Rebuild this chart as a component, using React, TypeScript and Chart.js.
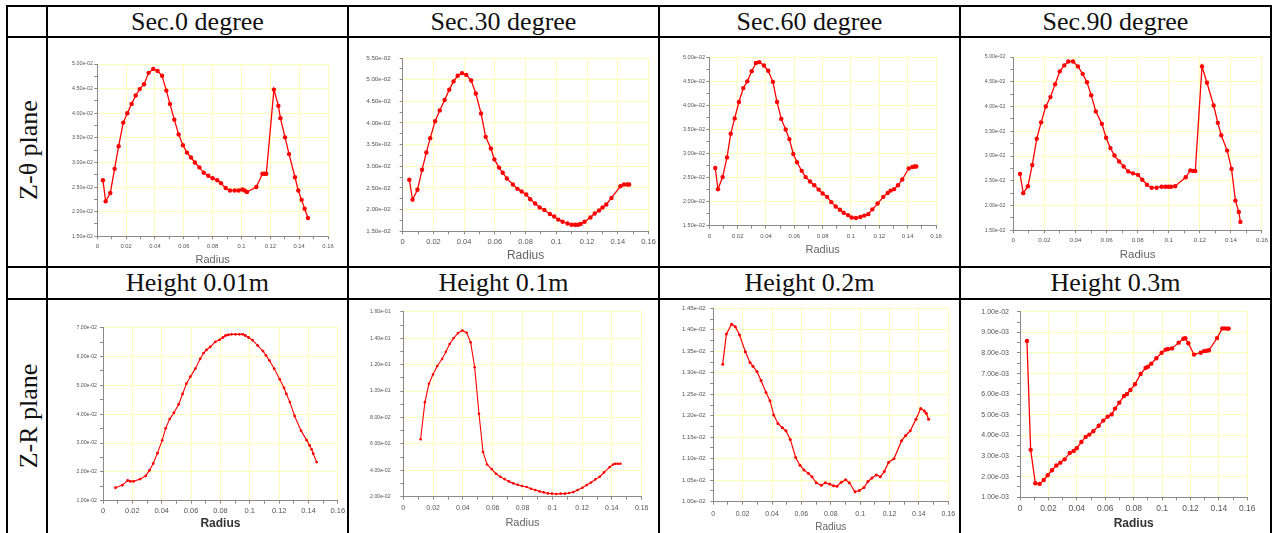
import { useEffect, useRef } from "react";
import { Chart, registerables } from "chart.js";

Chart.register(...registerables);

const NARROW = "'Liberation Sans Narrow', 'Arial Narrow', 'Liberation Sans', Arial, sans-serif";
const SERIF = "'Liberation Serif', 'Times New Roman', 'DejaVu Serif', serif";

// ---- table text ----
const columnHeaders = ["Sec.0 degree", "Sec.30 degree", "Sec.60 degree", "Sec.90 degree"];
const heightHeaders = ["Height 0.01m", "Height 0.1m", "Height 0.2m", "Height 0.3m"];
const rowLabels = ["Z-\u03b8 plane", "Z-R plane"];
const axisTitle = "Radius";

// ---- Z-θ plane, Sec.0 degree ----
const sec0Radius = [0.0039, 0.0058, 0.009, 0.012, 0.0148, 0.018, 0.0208, 0.0238, 0.0266, 0.0294, 0.0324, 0.0356, 0.0388, 0.0418, 0.0449, 0.0479, 0.0504, 0.0534, 0.0564, 0.0594, 0.0622, 0.065, 0.0677, 0.0708, 0.0738, 0.077, 0.08, 0.0832, 0.0858, 0.089, 0.092, 0.0953, 0.098, 0.1006, 0.1022, 0.1038, 0.1103, 0.1145, 0.116, 0.1172, 0.1225, 0.1256, 0.127, 0.1302, 0.133, 0.1371, 0.1394, 0.1417, 0.1438, 0.1461];
const sec0Value = [2.64e-2, 2.21e-2, 2.38e-2, 2.87e-2, 3.33e-2, 3.81e-2, 4.0e-2, 4.19e-2, 4.36e-2, 4.49e-2, 4.59e-2, 4.82e-2, 4.9e-2, 4.86e-2, 4.76e-2, 4.46e-2, 4.19e-2, 3.87e-2, 3.57e-2, 3.35e-2, 3.2e-2, 3.1e-2, 3.0e-2, 2.9e-2, 2.79e-2, 2.73e-2, 2.68e-2, 2.64e-2, 2.58e-2, 2.48e-2, 2.43e-2, 2.43e-2, 2.43e-2, 2.45e-2, 2.43e-2, 2.4e-2, 2.5e-2, 2.77e-2, 2.77e-2, 2.77e-2, 4.48e-2, 4.15e-2, 3.9e-2, 3.51e-2, 3.17e-2, 2.7e-2, 2.43e-2, 2.24e-2, 2.06e-2, 1.87e-2];

// ---- Z-θ plane, Sec.30 degree ----
const sec30Radius = [0.0043, 0.0064, 0.0096, 0.0126, 0.0154, 0.0179, 0.0211, 0.0241, 0.0273, 0.0303, 0.0331, 0.0358, 0.0386, 0.0414, 0.0446, 0.0476, 0.051, 0.054, 0.0574, 0.0597, 0.0627, 0.0651, 0.0678, 0.0717, 0.0747, 0.0774, 0.0804, 0.083, 0.0862, 0.0892, 0.0922, 0.0958, 0.0986, 0.1013, 0.1041, 0.1073, 0.1099, 0.1122, 0.1141, 0.1158, 0.1184, 0.1222, 0.125, 0.1278, 0.1301, 0.1325, 0.1359, 0.1417, 0.144, 0.1461, 0.1474];
const sec30Value = [2.69e-2, 2.23e-2, 2.46e-2, 2.92e-2, 3.32e-2, 3.65e-2, 4.04e-2, 4.29e-2, 4.53e-2, 4.77e-2, 4.96e-2, 5.09e-2, 5.15e-2, 5.11e-2, 4.98e-2, 4.68e-2, 4.22e-2, 3.68e-2, 3.41e-2, 3.16e-2, 2.97e-2, 2.85e-2, 2.72e-2, 2.58e-2, 2.48e-2, 2.42e-2, 2.35e-2, 2.24e-2, 2.14e-2, 2.05e-2, 1.99e-2, 1.9e-2, 1.84e-2, 1.77e-2, 1.72e-2, 1.68e-2, 1.65e-2, 1.65e-2, 1.65e-2, 1.67e-2, 1.72e-2, 1.82e-2, 1.91e-2, 1.98e-2, 2.05e-2, 2.12e-2, 2.27e-2, 2.54e-2, 2.58e-2, 2.58e-2, 2.58e-2];

// ---- Z-θ plane, Sec.60 degree ----
const sec60Radius = [0.0042, 0.0061, 0.0094, 0.0125, 0.0151, 0.0179, 0.0209, 0.024, 0.0268, 0.0299, 0.0329, 0.0353, 0.0386, 0.0416, 0.0449, 0.0478, 0.0508, 0.0539, 0.0565, 0.0593, 0.0619, 0.0652, 0.068, 0.0711, 0.0741, 0.0772, 0.08, 0.0831, 0.0861, 0.0892, 0.0922, 0.0948, 0.0979, 0.1005, 0.1035, 0.1066, 0.1094, 0.1122, 0.1151, 0.1188, 0.1228, 0.1259, 0.128, 0.1304, 0.1332, 0.1362, 0.1407, 0.1433, 0.1449, 0.1461];
const sec60Value = [2.7e-2, 2.26e-2, 2.51e-2, 2.92e-2, 3.41e-2, 3.73e-2, 4.07e-2, 4.36e-2, 4.5e-2, 4.71e-2, 4.88e-2, 4.9e-2, 4.83e-2, 4.72e-2, 4.49e-2, 4.07e-2, 3.72e-2, 3.5e-2, 3.3e-2, 2.99e-2, 2.82e-2, 2.64e-2, 2.51e-2, 2.42e-2, 2.34e-2, 2.25e-2, 2.17e-2, 2.1e-2, 1.99e-2, 1.9e-2, 1.83e-2, 1.77e-2, 1.72e-2, 1.67e-2, 1.66e-2, 1.68e-2, 1.71e-2, 1.74e-2, 1.84e-2, 1.96e-2, 2.1e-2, 2.18e-2, 2.23e-2, 2.26e-2, 2.34e-2, 2.46e-2, 2.69e-2, 2.72e-2, 2.73e-2, 2.73e-2];

// ---- Z-θ plane, Sec.90 degree ----
const sec90Radius = [0.0043, 0.0064, 0.0094, 0.0122, 0.0151, 0.0179, 0.0209, 0.0239, 0.0269, 0.0299, 0.0328, 0.0354, 0.0384, 0.0416, 0.0446, 0.0474, 0.0501, 0.0531, 0.057, 0.0597, 0.0625, 0.0651, 0.0681, 0.071, 0.074, 0.077, 0.0802, 0.083, 0.086, 0.089, 0.0922, 0.0954, 0.0979, 0.0998, 0.1015, 0.1041, 0.1109, 0.1139, 0.1158, 0.1171, 0.1214, 0.1246, 0.1289, 0.1316, 0.1338, 0.1376, 0.1404, 0.1429, 0.1451, 0.1461];
const sec90Value = [2.64e-2, 2.25e-2, 2.39e-2, 2.82e-2, 3.35e-2, 3.68e-2, 4.0e-2, 4.19e-2, 4.45e-2, 4.71e-2, 4.83e-2, 4.91e-2, 4.91e-2, 4.81e-2, 4.66e-2, 4.49e-2, 4.23e-2, 3.9e-2, 3.65e-2, 3.37e-2, 3.16e-2, 3.01e-2, 2.89e-2, 2.79e-2, 2.69e-2, 2.65e-2, 2.62e-2, 2.52e-2, 2.42e-2, 2.36e-2, 2.36e-2, 2.38e-2, 2.38e-2, 2.38e-2, 2.38e-2, 2.39e-2, 2.57e-2, 2.71e-2, 2.7e-2, 2.7e-2, 4.81e-2, 4.48e-2, 4.02e-2, 3.67e-2, 3.42e-2, 3.11e-2, 2.74e-2, 2.1e-2, 1.87e-2, 1.67e-2];

// ---- Z-R plane, Height 0.01m ----
const h001Radius = [0.0085, 0.0132, 0.0168, 0.0186, 0.0208, 0.0253, 0.0291, 0.0316, 0.0342, 0.0371, 0.0403, 0.0427, 0.0454, 0.0483, 0.0515, 0.0542, 0.0568, 0.0595, 0.0629, 0.0662, 0.0685, 0.0705, 0.073, 0.0765, 0.0794, 0.0817, 0.0835, 0.0853, 0.0875, 0.0902, 0.0929, 0.0951, 0.0969, 0.0991, 0.1018, 0.1054, 0.109, 0.111, 0.1134, 0.1166, 0.1204, 0.1233, 0.1249, 0.1273, 0.1305, 0.1349, 0.1387, 0.1407, 0.1421, 0.1432, 0.1455];
const h001Value = [1.45e-2, 1.54e-2, 1.7e-2, 1.67e-2, 1.67e-2, 1.75e-2, 1.86e-2, 2.05e-2, 2.29e-2, 2.65e-2, 3.09e-2, 3.51e-2, 3.83e-2, 4.05e-2, 4.34e-2, 4.7e-2, 5.06e-2, 5.3e-2, 5.58e-2, 5.92e-2, 6.12e-2, 6.23e-2, 6.33e-2, 6.51e-2, 6.58e-2, 6.66e-2, 6.73e-2, 6.75e-2, 6.77e-2, 6.77e-2, 6.77e-2, 6.77e-2, 6.73e-2, 6.66e-2, 6.57e-2, 6.38e-2, 6.19e-2, 6.04e-2, 5.86e-2, 5.58e-2, 5.21e-2, 4.91e-2, 4.7e-2, 4.42e-2, 3.94e-2, 3.43e-2, 3.1e-2, 2.92e-2, 2.78e-2, 2.63e-2, 2.34e-2];

// ---- Z-R plane, Height 0.1m ----
const h01Radius = [0.0116, 0.0145, 0.0172, 0.0199, 0.0228, 0.026, 0.0286, 0.0311, 0.0338, 0.0367, 0.0396, 0.0425, 0.0452, 0.0479, 0.0508, 0.0535, 0.0562, 0.0593, 0.0622, 0.0651, 0.068, 0.0709, 0.0738, 0.0768, 0.0797, 0.0828, 0.0857, 0.0886, 0.0915, 0.0942, 0.0971, 0.0998, 0.1027, 0.1056, 0.1085, 0.1112, 0.1141, 0.117, 0.1202, 0.1231, 0.126, 0.1289, 0.1318, 0.1347, 0.1385, 0.1408, 0.1423, 0.1439, 0.1457];
const h01Value = [6.35e-2, 9.16e-2, 10.55e-2, 11.25e-2, 11.9e-2, 12.43e-2, 12.98e-2, 13.56e-2, 14.01e-2, 14.39e-2, 14.59e-2, 14.42e-2, 13.69e-2, 11.8e-2, 8.28e-2, 5.39e-2, 4.44e-2, 4.09e-2, 3.74e-2, 3.51e-2, 3.33e-2, 3.16e-2, 3.01e-2, 2.91e-2, 2.81e-2, 2.73e-2, 2.6e-2, 2.5e-2, 2.4e-2, 2.33e-2, 2.25e-2, 2.23e-2, 2.2e-2, 2.23e-2, 2.23e-2, 2.28e-2, 2.35e-2, 2.5e-2, 2.68e-2, 2.88e-2, 3.08e-2, 3.31e-2, 3.51e-2, 3.84e-2, 4.24e-2, 4.44e-2, 4.49e-2, 4.49e-2, 4.49e-2];

// ---- Z-R plane, Height 0.2m ----
const h02Radius = [0.0064, 0.0089, 0.0125, 0.015, 0.0179, 0.0218, 0.025, 0.027, 0.0297, 0.0325, 0.0359, 0.0386, 0.0411, 0.044, 0.047, 0.0495, 0.0524, 0.0561, 0.059, 0.0617, 0.0647, 0.0672, 0.0701, 0.0735, 0.0763, 0.0792, 0.0819, 0.0842, 0.0871, 0.0901, 0.0926, 0.0965, 0.0994, 0.1026, 0.1053, 0.108, 0.111, 0.1137, 0.1164, 0.1194, 0.123, 0.1282, 0.131, 0.1341, 0.138, 0.1412, 0.1437, 0.145, 0.1466];
const h02Value = [1.32e-2, 1.39e-2, 1.413e-2, 1.407e-2, 1.388e-2, 1.349e-2, 1.324e-2, 1.315e-2, 1.303e-2, 1.282e-2, 1.254e-2, 1.235e-2, 1.202e-2, 1.182e-2, 1.172e-2, 1.165e-2, 1.145e-2, 1.103e-2, 1.085e-2, 1.074e-2, 1.066e-2, 1.058e-2, 1.044e-2, 1.038e-2, 1.044e-2, 1.041e-2, 1.037e-2, 1.036e-2, 1.045e-2, 1.051e-2, 1.044e-2, 1.023e-2, 1.026e-2, 1.033e-2, 1.047e-2, 1.055e-2, 1.062e-2, 1.058e-2, 1.07e-2, 1.092e-2, 1.1e-2, 1.142e-2, 1.154e-2, 1.165e-2, 1.192e-2, 1.217e-2, 1.211e-2, 1.206e-2, 1.192e-2];

// ---- Z-R plane, Height 0.3m ----
const h03Radius = [0.0049, 0.0075, 0.0108, 0.0138, 0.0167, 0.0195, 0.0225, 0.0256, 0.0284, 0.0314, 0.035, 0.0378, 0.0399, 0.0432, 0.0462, 0.0488, 0.0516, 0.0554, 0.0586, 0.0617, 0.0645, 0.0669, 0.0699, 0.0732, 0.0753, 0.0777, 0.0809, 0.0849, 0.0884, 0.0901, 0.0924, 0.096, 0.0997, 0.1025, 0.1042, 0.107, 0.1117, 0.115, 0.1164, 0.1185, 0.1225, 0.1272, 0.1295, 0.1314, 0.133, 0.1387, 0.1424, 0.1443, 0.146, 0.1469];
const h03Value = [8.58e-3, 3.3e-3, 1.68e-3, 1.65e-3, 1.84e-3, 2.07e-3, 2.31e-3, 2.54e-3, 2.68e-3, 2.84e-3, 3.15e-3, 3.25e-3, 3.38e-3, 3.68e-3, 3.93e-3, 4.04e-3, 4.2e-3, 4.47e-3, 4.72e-3, 4.91e-3, 5.02e-3, 5.3e-3, 5.59e-3, 5.91e-3, 6.01e-3, 6.2e-3, 6.48e-3, 6.98e-3, 7.27e-3, 7.33e-3, 7.48e-3, 7.74e-3, 8.01e-3, 8.16e-3, 8.19e-3, 8.22e-3, 8.5e-3, 8.69e-3, 8.71e-3, 8.47e-3, 7.92e-3, 8.01e-3, 8.09e-3, 8.11e-3, 8.13e-3, 8.72e-3, 9.19e-3, 9.19e-3, 9.18e-3, 9.18e-3];

// ---- axes ----
const radiusMin = 0;
const radiusMax = 0.16;
const radiusStep = 0.02;

// table rule positions (px)
const COLS = [7, 47, 348, 659, 960, 1271];
const ROWS = [6, 37, 267, 299, 533];

type Box = {
  left: number; right: number; top: number; bottom: number;
  yGap: number; xLabelY: number; titleY: number;
  yFont: number; xFont: number; titleFont: number; titleBold: boolean; titleColor: string;
  pointRadius: number; lineWidth: number;
};

type Panel = {
  col: number; row: number;
  radius: number[]; value: number[];
  yMin: number; yMax: number; yStep: number;
  box: Box;
};

const panels: Panel[] = [
  { col: 1, row: 0, radius: sec0Radius, value: sec0Value, yMin: 0.015, yMax: 0.05, yStep: 0.005,
    box: { left: 97.3, right: 328, top: 64, bottom: 236.3, yGap: 4.3, xLabelY: 246.3, titleY: 260, yFont: 5.3, xFont: 5.8, titleFont: 11, titleBold: false, titleColor: "#666", pointRadius: 2.2, lineWidth: 1.3 } },
  { col: 2, row: 0, radius: sec30Radius, value: sec30Value, yMin: 0.015, yMax: 0.055, yStep: 0.005,
    box: { left: 402.7, right: 652.7, top: 58, bottom: 231.3, yGap: 12, xLabelY: 242, titleY: 256, yFont: 6.2, xFont: 7.5, titleFont: 12, titleBold: false, titleColor: "#666", pointRadius: 2.2, lineWidth: 1.3 } },
  { col: 3, row: 0, radius: sec60Radius, value: sec60Value, yMin: 0.015, yMax: 0.05, yStep: 0.005,
    box: { left: 709.3, right: 936, top: 57.3, bottom: 225.7, yGap: 4.3, xLabelY: 236.7, titleY: 250, yFont: 5.6, xFont: 6, titleFont: 11, titleBold: false, titleColor: "#666", pointRadius: 2.2, lineWidth: 1.3 } },
  { col: 4, row: 0, radius: sec90Radius, value: sec90Value, yMin: 0.015, yMax: 0.05, yStep: 0.005,
    box: { left: 1013.3, right: 1263.3, top: 57, bottom: 230.3, yGap: 8, xLabelY: 240, titleY: 255, yFont: 5.2, xFont: 6.2, titleFont: 11.5, titleBold: false, titleColor: "#666", pointRadius: 2.2, lineWidth: 1.3 } },
  { col: 1, row: 1, radius: h001Radius, value: h001Value, yMin: 0.01, yMax: 0.07, yStep: 0.01,
    box: { left: 103, right: 341.3, top: 327.7, bottom: 500.7, yGap: 6, xLabelY: 511, titleY: 524, yFont: 5.2, xFont: 7.5, titleFont: 12, titleBold: true, titleColor: "#333", pointRadius: 1.4, lineWidth: 1.1 } },
  { col: 2, row: 1, radius: h01Radius, value: h01Value, yMin: 0.02, yMax: 0.16, yStep: 0.02,
    box: { left: 403.3, right: 641.7, top: 311, bottom: 496.7, yGap: 12.7, xLabelY: 508.3, titleY: 523, yFont: 5.2, xFont: 7, titleFont: 11, titleBold: false, titleColor: "#666", pointRadius: 1.3, lineWidth: 1.1 } },
  { col: 3, row: 1, radius: h02Radius, value: h02Value, yMin: 0.01, yMax: 0.0145, yStep: 0.0005,
    box: { left: 713.3, right: 948.3, top: 308.3, bottom: 501.7, yGap: 7.7, xLabelY: 513.7, titleY: 527, yFont: 6, xFont: 7, titleFont: 10, titleBold: false, titleColor: "#666", pointRadius: 1.5, lineWidth: 1.2 } },
  { col: 4, row: 1, radius: h03Radius, value: h03Value, yMin: 0.001, yMax: 0.01, yStep: 0.001,
    box: { left: 1020, right: 1247.3, top: 311.7, bottom: 497.3, yGap: 11, xLabelY: 508.3, titleY: 524, yFont: 7, xFont: 8.5, titleFont: 12, titleBold: true, titleColor: "#333", pointRadius: 2.2, lineWidth: 1.3 } },
];

const GRID_YELLOW = "rgb(255,255,185)";
const AXIS_GRAY = "#8a8a8a";
const TICK_TEXT = "#555";
const LINE_RED = "#ff0000";
const TICK_LEN = 3;

function isMajor(v: number, step: number): boolean {
  const q = v / step;
  return Math.abs(q - Math.round(q)) < 1e-6;
}

// 5.00e-02 style labels
function sciLabel(v: number): string {
  if (Math.abs(v) < 1e-15) return "0.00e+00";
  let e = Math.floor(Math.log10(Math.abs(v)));
  let m = v / Math.pow(10, e);
  if (Math.abs(m) >= 9.995) { m /= 10; e += 1; }
  const sign = e < 0 ? "-" : "+";
  return m.toFixed(2) + "e" + sign + String(Math.abs(e)).padStart(2, "0");
}

function radiusLabel(v: number): string {
  return String(parseFloat(v.toFixed(2)));
}

function PanelChart({ panel }: { panel: Panel }) {
  const ref = useRef<HTMLCanvasElement | null>(null);
  const x0 = COLS[panel.col];
  const x1 = COLS[panel.col + 1];
  const y0 = panel.row === 0 ? ROWS[1] : ROWS[3];
  const y1 = panel.row === 0 ? ROWS[2] : ROWS[4];
  const w = x1 - x0;
  const h = y1 - y0;

  useEffect(() => {
    const canvas = ref.current;
    if (!canvas) return;
    const b = panel.box;
    const titleLH = b.titleFont * 1.2;
    const titleBottom = Math.min(h, b.titleY - y0 + titleLH / 2);
    const plotBottom = b.bottom - y0;
    const xPad = b.xLabelY - b.bottom - TICK_LEN - 0.6 * b.xFont;

    const chart = new Chart(canvas, {
      type: "line",
      data: {
        datasets: [
          {
            data: panel.radius.map((r, i) => ({ x: r, y: panel.value[i] })),
            borderColor: LINE_RED,
            backgroundColor: LINE_RED,
            pointBackgroundColor: LINE_RED,
            pointBorderColor: LINE_RED,
            pointBorderWidth: 0,
            pointRadius: b.pointRadius,
            borderWidth: b.lineWidth,
            tension: 0,
            fill: false,
          },
        ],
      },
      options: {
        animation: false,
        responsive: false,
        events: [],
        layout: {
          padding: {
            left: 0,
            top: b.top - y0,
            right: x1 - b.right,
            bottom: Math.max(0, h - titleBottom),
          },
        },
        plugins: {
          legend: { display: false },
          tooltip: { enabled: false },
          title: { display: false },
        },
        scales: {
          x: {
            type: "linear",
            min: radiusMin,
            max: radiusMax,
            ticks: {
              stepSize: radiusStep / 2,
              autoSkip: false,
              maxRotation: 0,
              padding: xPad,
              color: TICK_TEXT,
              font: { family: NARROW, size: b.xFont },
              callback: (v: any) => (isMajor(Number(v), radiusStep) ? radiusLabel(Number(v)) : ""),
            },
            grid: {
              color: (ctx: any) => (ctx.tick && isMajor(ctx.tick.value, radiusStep) ? GRID_YELLOW : "rgba(0,0,0,0)"),
              tickColor: AXIS_GRAY,
              tickLength: TICK_LEN,
              lineWidth: 1,
            },
            border: { color: AXIS_GRAY, width: 1 },
            title: {
              display: true,
              text: axisTitle,
              color: b.titleColor,
              padding: 0,
              font: { family: NARROW, size: b.titleFont, weight: b.titleBold ? "bold" : "normal" },
            },
            afterFit: (scale: any) => {
              scale.height = titleBottom - plotBottom;
            },
          },
          y: {
            type: "linear",
            min: panel.yMin,
            max: panel.yMax,
            ticks: {
              stepSize: panel.yStep / 2,
              autoSkip: false,
              padding: b.yGap - TICK_LEN,
              color: TICK_TEXT,
              font: { family: NARROW, size: b.yFont },
              callback: (v: any) => (isMajor(Number(v), panel.yStep) ? sciLabel(Number(v)) : ""),
            },
            grid: {
              color: (ctx: any) => (ctx.tick && isMajor(ctx.tick.value, panel.yStep) ? GRID_YELLOW : "rgba(0,0,0,0)"),
              tickColor: AXIS_GRAY,
              tickLength: TICK_LEN,
              lineWidth: 1,
            },
            border: { color: AXIS_GRAY, width: 1 },
            afterFit: (scale: any) => {
              scale.width = b.left - x0;
            },
          },
        },
      },
    });
    return () => chart.destroy();
  }, [panel]);

  return (
    <canvas
      ref={ref}
      width={w}
      height={h}
      style={{ position: "absolute", left: x0, top: y0, width: w, height: h, display: "block" }}
    />
  );
}

const RULE = 2;

export default function App() {
  const headerH1 = ROWS[1] - ROWS[0];
  const headerH2 = ROWS[3] - ROWS[2];
  const rowCenters = [(ROWS[1] + ROWS[2]) / 2 - 2, (ROWS[3] + ROWS[4]) / 2];

  return (
    <div
      style={{
        position: "fixed",
        left: 0,
        top: 0,
        width: 1273,
        height: 533,
        overflow: "hidden",
        background: "#ffffff",
        color: "#111",
      }}
    >
      {panels.map((p, i) => (
        <PanelChart key={i} panel={p} />
      ))}

      {columnHeaders.map((t, i) => (
        <div
          key={"c" + i}
          style={{
            position: "absolute",
            left: COLS[i + 1],
            top: ROWS[0],
            width: COLS[i + 2] - COLS[i + 1],
            height: headerH1,
            lineHeight: headerH1 + "px",
            textAlign: "center",
            fontFamily: SERIF,
            fontSize: 26,
            whiteSpace: "nowrap",
          }}
        >
          {t}
        </div>
      ))}

      {heightHeaders.map((t, i) => (
        <div
          key={"r" + i}
          style={{
            position: "absolute",
            left: COLS[i + 1],
            top: ROWS[2],
            width: COLS[i + 2] - COLS[i + 1],
            height: headerH2,
            lineHeight: headerH2 + "px",
            textAlign: "center",
            fontFamily: SERIF,
            fontSize: 26,
            whiteSpace: "nowrap",
          }}
        >
          {t}
        </div>
      ))}

      {rowLabels.map((t, i) => (
        <div
          key={"l" + i}
          style={{
            position: "absolute",
            left: 29 - 100,
            top: rowCenters[i] - 15,
            width: 200,
            height: 30,
            lineHeight: "30px",
            textAlign: "center",
            fontFamily: SERIF,
            fontSize: 26,
            whiteSpace: "nowrap",
            transform: "rotate(-90deg)",
          }}
        >
          {t}
        </div>
      ))}

      {COLS.map((x, i) => (
        <div
          key={"v" + i}
          style={{
            position: "absolute",
            left: x - RULE / 2,
            top: ROWS[0] - RULE / 2,
            width: RULE,
            height: 533 - ROWS[0] + RULE,
            background: "#000",
            zIndex: 2,
          }}
        />
      ))}
      {ROWS.slice(0, 4).map((y, i) => (
        <div
          key={"h" + i}
          style={{
            position: "absolute",
            left: COLS[0] - RULE / 2,
            top: y - RULE / 2,
            width: COLS[5] - COLS[0] + RULE,
            height: RULE,
            background: "#000",
            zIndex: 2,
          }}
        />
      ))}
    </div>
  );
}
